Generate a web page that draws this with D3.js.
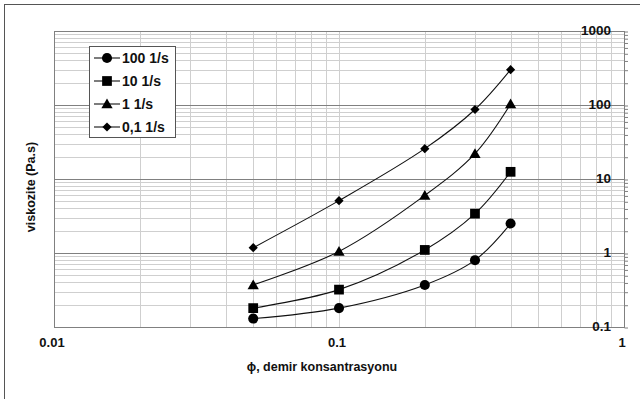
<!DOCTYPE html>
<html>
<head>
<meta charset="utf-8">
<script src="https://cdn.jsdelivr.net/npm/d3@7"></script>
<style>
  html, body { margin: 0; padding: 0; background: #fff; }
  svg { display: block; font-family: "Liberation Sans", Arial, sans-serif; }
</style>
</head>
<body>
<svg id="chart" width="640" height="399"></svg>
<script>
// Iron concentration (volume fraction)
const phi = [0.05, 0.1, 0.2, 0.3, 0.4];

// Viscosity (Pa.s) for each shear rate
const seriesNames = ["100 1/s", "10 1/s", "1 1/s", "0,1 1/s"];
const visc100 = [0.13, 0.18, 0.37, 0.80, 2.5];
const visc10 = [0.18, 0.32, 1.1, 3.4, 12.5];
const visc1 = [0.37, 1.05, 6.0, 22, 103];
const visc01 = [1.18, 5.1, 25.7, 87, 300];
const symbols = ["circle", "square", "triangle", "diamond"];

const xTickLabels = ["0.01", "0.1", "1"];
const yTickLabels = ["0.1", "1", "10", "100", "1000"];

const series = [visc100, visc10, visc1, visc01].map((vals, i) => ({
  name: seriesNames[i], symbol: symbols[i], values: vals
}));

const svg = d3.select("#chart");
const W = 640, H = 399;
const m = { left: 54, right: 16, top: 31, bottom: 72 };
const x0 = m.left, x1 = W - m.right, y0 = m.top, y1 = H - m.bottom;

const x = d3.scaleLog().domain([0.01, 1]).range([x0, x1]);
const y = d3.scaleLog().domain([0.1, 1000]).range([y1, y0]);

// Outer frame
svg.append("rect").attr("x", 4.5).attr("y", 4.5).attr("width", W + 10).attr("height", H + 10)
  .attr("fill", "none").attr("stroke", "#555").attr("stroke-width", 1);

const crisp = v => Math.round(v) + 0.5;

// Tick values across the decades
function logTicks(lo, hi) {
  const out = [];
  for (let e = Math.round(Math.log10(lo)); e < Math.round(Math.log10(hi)); e++) {
    for (let k = 1; k <= 9; k++) out.push({ v: k * Math.pow(10, e), major: k === 1 });
  }
  out.push({ v: hi, major: true });
  return out;
}
const xt = logTicks(0.01, 1);
const yt = logTicks(0.1, 1000);

const grid = svg.append("g");
// vertical grid
grid.selectAll("line.vx").data(xt.filter(d => d.v > 0.01 && d.v < 1)).join("line")
  .attr("x1", d => crisp(x(d.v))).attr("x2", d => crisp(x(d.v)))
  .attr("y1", y0).attr("y2", y1)
  .attr("stroke", "#cfcfcf").attr("stroke-width", 1);
// horizontal minor grid
grid.selectAll("line.hm").data(yt.filter(d => !d.major)).join("line")
  .attr("x1", x0).attr("x2", x1)
  .attr("y1", d => crisp(y(d.v))).attr("y2", d => crisp(y(d.v)))
  .attr("stroke", "#cfcfcf").attr("stroke-width", 1);
// horizontal major grid
grid.selectAll("line.hM").data(yt.filter(d => d.major)).join("line")
  .attr("x1", x0).attr("x2", x1)
  .attr("y1", d => crisp(y(d.v))).attr("y2", d => crisp(y(d.v)))
  .attr("stroke", "#808080").attr("stroke-width", 1);
// left border
grid.append("line").attr("x1", crisp(x0)).attr("x2", crisp(x0)).attr("y1", y0).attr("y2", y1)
  .attr("stroke", "#808080");

// right axis with outward ticks
const yAxis = d3.axisRight(y)
  .tickValues(yt.map(d => d.v))
  .tickSize(4)
  .tickFormat("");
const ya = svg.append("g").attr("transform", `translate(${crisp(x1) - 0.5},0.5)`).call(yAxis);
ya.select(".domain").attr("stroke", "#808080").attr("d", `M0.5,${y0 - 0.5}V${y1 + 0.5}`);
ya.selectAll(".tick line").attr("stroke", "#808080").attr("x1", 0.5).attr("x2", 4);

// y tick labels drawn inside the plot, right-aligned
svg.append("g").selectAll("text").data(yTickLabels).join("text")
  .attr("x", x1 - 13).attr("y", d => y(+d))
  .attr("dy", "0.33em").attr("text-anchor", "end")
  .attr("font-size", 13.5).attr("font-weight", "bold").attr("fill", "#111")
  .text(d => d);

// x tick labels
svg.append("g").selectAll("text").data(xTickLabels).join("text")
  .attr("x", d => x(+d) - 2).attr("y", 347)
  .attr("text-anchor", "middle")
  .attr("font-size", 13).attr("font-weight", "bold").attr("fill", "#111")
  .text(d => d);

// axis titles
svg.append("text").attr("x", 322).attr("y", 371)
  .attr("text-anchor", "middle").attr("font-size", 12.5).attr("font-weight", "bold").attr("fill", "#111")
  .text("ϕ, demir konsantrasyonu");
svg.append("text").attr("transform", `translate(35,187) rotate(-90)`)
  .attr("text-anchor", "middle").attr("font-size", 12.5).attr("font-weight", "bold").attr("fill", "#111")
  .text("viskozite (Pa.s)");

// marker shapes
const diamondPath = "M0,-4.6L4.6,0L0,4.6L-4.6,0Z";
function marker(sel, s) {
  let d;
  if (s === "diamond") d = diamondPath;
  else if (s === "circle") d = d3.symbol().type(d3.symbolCircle).size(80)();
  else if (s === "square") d = d3.symbol().type(d3.symbolSquare).size(95)();
  else d = d3.symbol().type(d3.symbolTriangle).size(55)();
  sel.append("path").attr("d", d).attr("fill", "#000");
}

// curves
const line = d3.line()
  .x((d, i) => x(phi[i]))
  .y(d => y(d))
  .curve(d3.curveCatmullRom.alpha(0.5));

const plot = svg.append("g");
series.forEach(s => {
  plot.append("path").datum(s.values)
    .attr("d", line).attr("fill", "none").attr("stroke", "#111").attr("stroke-width", 1.1);
  s.values.forEach((v, i) => {
    const g = plot.append("g").attr("transform", `translate(${x(phi[i])},${y(v) + (s.symbol === "triangle" ? 1 : 0)})`);
    marker(g, s.symbol);
  });
});

// legend
const lg = svg.append("g");
lg.append("rect").attr("x", 89.5).attr("y", 46.5).attr("width", 86).attr("height", 91)
  .attr("fill", "#fff").attr("stroke", "#555");
series.forEach((s, i) => {
  const cy = 58 + i * 23;
  lg.append("line").attr("x1", 94).attr("x2", 120).attr("y1", cy).attr("y2", cy)
    .attr("stroke", "#111").attr("stroke-width", 1.1);
  const g = lg.append("g").attr("transform", `translate(107,${cy + (s.symbol === "triangle" ? 1 : 0)})`);
  marker(g, s.symbol);
  lg.append("text").attr("x", 122).attr("y", cy).attr("dy", "0.36em")
    .attr("font-size", 14).attr("font-weight", "bold").attr("fill", "#111")
    .text(s.name);
});
</script>
</body>
</html>
